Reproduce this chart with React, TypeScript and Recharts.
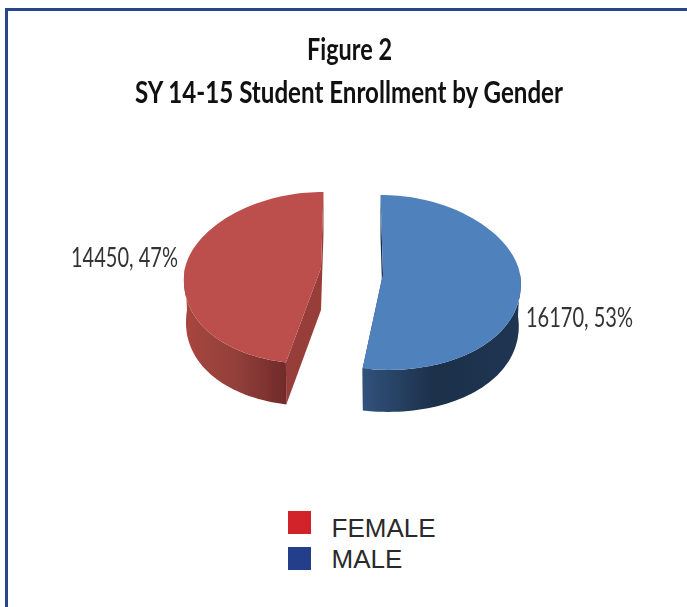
import { Legend, Pie, PieChart } from "recharts";

const genders = ["FEMALE", "MALE"];
const students = [14450, 16170];
const percents = [47, 53];
const titleLines = ["Figure 2", "SY 14-15 Student Enrollment by Gender"];

const topColors = ["#BC4F4C", "#4F81BD"];
const cutColors = ["#973E3B", "#1B2F4A"];
const legendColors = ["#D2232A", "#233F8C"];

const chartData = genders.map((name, i) => ({
  name,
  value: students[i],
  percent: percents[i],
  fill: topColors[i],
}));

const RADIUS = 137;
const DEPTH = 42;

// fake 3D view of each exploded slice, relative to the pie centre
const sliceViews = [
  { dx: -31, dy: -2, leanA: 6, leanB: -4, back: 0.555 },
  { dx: 31, dy: 4, leanA: -4, leanB: 1, back: 0.577 },
];

const project = (cx: number, cy: number, view: any, angle: number, drop = 0) => {
  const rad = (angle * Math.PI) / 180;
  const u = Math.cos(rad);
  const v = Math.sin(rad);
  const widen = (1 - 0.08 * v) * (drop ? 0.985 : 1);
  const squash = v > 0 ? view.back : 0.7;
  return [
    cx + view.dx + 0.5 + (RADIUS - 0.5) * u * widen + view.leanA * v + view.leanB * v * v,
    cy + view.dy - RADIUS * squash * v + drop,
  ];
};

const toPath = (pts: number[][]) =>
  pts.map((p, i) => `${i ? "L" : "M"}${p[0].toFixed(1)} ${p[1].toFixed(1)}`).join(" ") + " Z";

function Slice3D(props: any) {
  const { cx, cy, startAngle, endAngle, index } = props;
  const view = sliceViews[index];
  const apex = [cx + view.dx, cy + view.dy];
  const apexLow = [apex[0], apex[1] + DEPTH];

  const angles: number[] = [];
  for (let a = startAngle; a < endAngle; a += 2) angles.push(a);
  angles.push(endAngle);

  const rim = angles.map((a) => project(cx, cy, view, a));
  const front = angles.filter((a) => Math.sin((a * Math.PI) / 180) < 0.03);
  const wall = [
    ...front.map((a) => project(cx, cy, view, a)),
    ...[...front].reverse().map((a) => project(cx, cy, view, a, DEPTH)),
  ];

  const cut = (a: number) =>
    toPath([apex, apexLow, project(cx, cy, view, a, DEPTH), project(cx, cy, view, a)]);

  return (
    <g>
      <path d={cut(startAngle)} fill={cutColors[index]} />
      <path d={cut(endAngle)} fill={cutColors[index]} />
      <path d={toPath(wall)} fill={`url(#wall${index})`} />
      <path d={toPath([apex, ...rim])} fill={topColors[index]} />
    </g>
  );
}

function SliceLabel(props: any) {
  const { cx, cy, index } = props;
  const text = `${students[index]}, ${percents[index]}%`;
  const x = index === 0 ? cx - 281 : cx + 174;
  const y = index === 0 ? cy - 3 : cy + 57;
  return (
    <text
      x={x}
      y={y}
      fontFamily="Lato"
      fontSize={27}
      fill="#333333"
      textLength={107}
      lengthAdjust="spacingAndGlyphs"
      style={{ filter: "blur(0.4px)" }}
    >
      {text}
    </text>
  );
}

function GenderLegend() {
  return (
    <div style={{ position: "relative", width: 687, height: 607 }}>
      {genders.map((name, i) => (
        <div key={name}>
          <div
            style={{
              position: "absolute",
              left: 288,
              top: 511 + i * 36,
              width: 23,
              height: 23,
              background: legendColors[i],
            }}
          />
          <div
            style={{
              position: "absolute",
              left: 331.5,
              top: 513 + i * 31,
              fontFamily: "Liberation Sans",
              fontSize: 26,
              lineHeight: "30px",
              color: "#2A2A2A",
            }}
          >
            {name}
          </div>
        </div>
      ))}
    </div>
  );
}

export default function App() {
  return (
    <div
      style={{
        position: "absolute",
        left: 0,
        top: 0,
        width: 687,
        height: 607,
        overflow: "hidden",
        background: "#fff",
      }}
    >
      <div
        style={{
          position: "absolute",
          left: 5,
          top: 8,
          width: 700,
          height: 700,
          border: "3px solid #2A4590",
        }}
      />
      <PieChart
        width={687}
        height={607}
        margin={{ top: 0, right: 0, bottom: 0, left: 0 }}
        style={{ position: "absolute", left: 0, top: 0 }}
      >
        <defs>
          <linearGradient id="wall0" x1="0" y1="0" x2="1" y2="0">
            <stop offset="0%" stopColor="#A8463F" />
            <stop offset="50%" stopColor="#93403B" />
            <stop offset="100%" stopColor="#702B29" />
          </linearGradient>
          <linearGradient id="wall1" x1="0" y1="0" x2="1" y2="0">
            <stop offset="0%" stopColor="#31527C" />
            <stop offset="45%" stopColor="#1C3049" />
            <stop offset="100%" stopColor="#1F3552" />
          </linearGradient>
        </defs>
        <text x={349.5} y={60} textAnchor="middle" fontFamily="Lato" fontWeight={700} fontSize={31} fill="#111" textLength={85} lengthAdjust="spacingAndGlyphs" style={{ filter: "blur(0.4px)" }}>
          {titleLines[0]}
        </text>
        <text x={349} y={103} textAnchor="middle" fontFamily="Lato" fontWeight={700} fontSize={31} fill="#111" textLength={428} lengthAdjust="spacingAndGlyphs" style={{ filter: "blur(0.4px)" }}>
          {titleLines[1]}
        </text>
        <Pie
          data={chartData}
          dataKey="value"
          nameKey="name"
          cx={352}
          cy={270}
          outerRadius={RADIUS}
          startAngle={90}
          endAngle={450}
          stroke="none"
          shape={Slice3D}
          label={SliceLabel}
          labelLine={false}
          isAnimationActive={false}
        />
        <Legend
          content={GenderLegend}
          wrapperStyle={{ position: "absolute", left: 0, top: 0, width: 687, height: 607 }}
        />
      </PieChart>
    </div>
  );
}
